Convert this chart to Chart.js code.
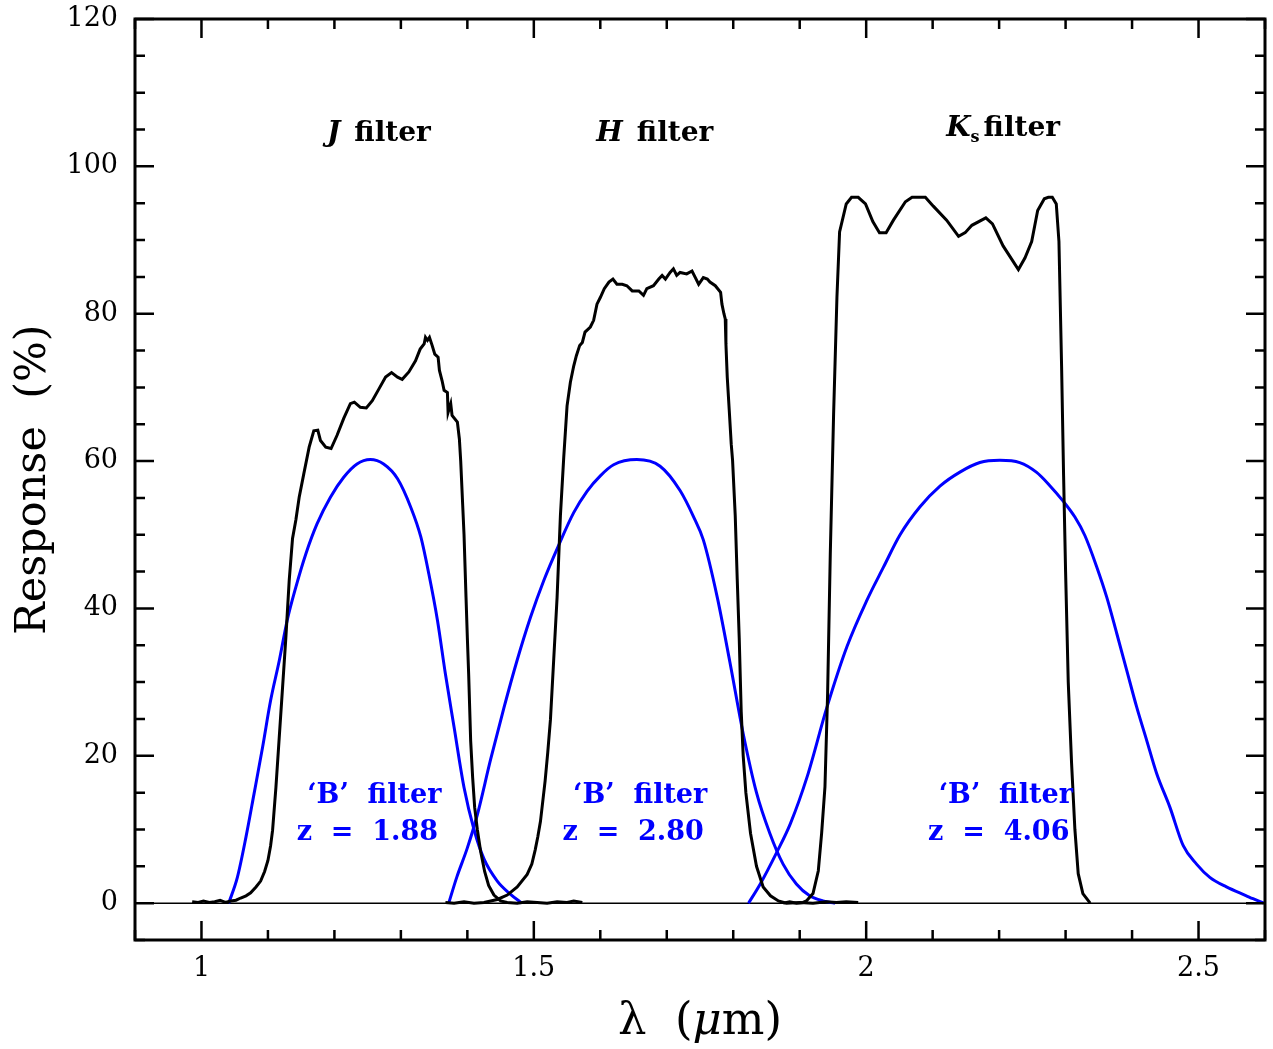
<!DOCTYPE html>
<html>
<head>
<meta charset="utf-8">
<script src="https://cdn.jsdelivr.net/npm/chart.js@4"></script>
<style>
  html, body { margin: 0; padding: 0; background: #fff; }
  #wrap { width: 1273px; height: 1049px; }
</style>
</head>
<body>
<div id="wrap"><canvas id="filterChart"></canvas></div>
<script>
// J, H, Ks filter responses (black) and redshifted 'B' filter (blue)
const jWave = [0.986, 0.995, 1.003, 1.012, 1.020, 1.028, 1.036, 1.044, 1.052, 1.059, 1.067, 1.074, 1.082, 1.089, 1.095, 1.100, 1.104, 1.107, 1.112, 1.117, 1.122, 1.127, 1.132, 1.137, 1.142, 1.147, 1.154, 1.162, 1.169, 1.175, 1.179, 1.187, 1.195, 1.204, 1.214, 1.224, 1.230, 1.239, 1.248, 1.257, 1.267, 1.277, 1.286, 1.295, 1.302, 1.312, 1.322, 1.329, 1.335, 1.337, 1.340, 1.343, 1.347, 1.351, 1.356, 1.358, 1.362, 1.365, 1.370, 1.371, 1.375, 1.377, 1.385, 1.388, 1.390, 1.393, 1.395, 1.398, 1.400, 1.402, 1.405, 1.408, 1.411, 1.415, 1.420, 1.426, 1.432, 1.440, 1.450, 1.460, 1.475, 1.490, 1.505, 1.520, 1.535, 1.550, 1.560, 1.573];
const jResp = [0.2, 0.1, 0.3, 0.1, 0.2, 0.4, 0.1, 0.3, 0.4, 0.7, 1.0, 1.4, 2.2, 3.0, 4.3, 5.8, 7.8, 9.9, 15.7, 22.5, 29.3, 36.1, 43.8, 49.5, 52.0, 55.1, 58.3, 61.9, 64.1, 64.2, 62.8, 61.9, 61.7, 63.5, 65.8, 67.8, 68.0, 67.3, 67.2, 68.2, 69.8, 71.4, 72.0, 71.4, 71.1, 72.1, 73.6, 75.2, 75.9, 76.8, 76.4, 76.8, 75.7, 74.5, 74.1, 72.3, 70.9, 69.6, 69.3, 66.6, 67.8, 66.2, 65.3, 63.0, 60.0, 54.0, 50.0, 41.5, 36.0, 31.0, 22.0, 17.0, 13.0, 10.0, 7.0, 4.3, 2.4, 1.1, 0.3, 0.1, 0.0, 0.2, 0.1, 0.0, 0.2, 0.1, 0.3, 0.1];

const hWave = [1.367, 1.380, 1.395, 1.410, 1.425, 1.435, 1.445, 1.460, 1.475, 1.490, 1.497, 1.502, 1.506, 1.510, 1.517, 1.521, 1.525, 1.530, 1.535, 1.540, 1.545, 1.550, 1.555, 1.560, 1.564, 1.569, 1.573, 1.577, 1.585, 1.590, 1.595, 1.600, 1.606, 1.613, 1.619, 1.625, 1.633, 1.640, 1.648, 1.658, 1.665, 1.670, 1.680, 1.688, 1.693, 1.698, 1.705, 1.710, 1.715, 1.720, 1.730, 1.738, 1.743, 1.748, 1.755, 1.761, 1.765, 1.773, 1.781, 1.783, 1.786, 1.788, 1.789, 1.791, 1.794, 1.797, 1.799, 1.803, 1.806, 1.809, 1.812, 1.815, 1.819, 1.826, 1.835, 1.845, 1.856, 1.868, 1.880, 1.900, 1.920, 1.940, 1.955, 1.970, 1.988];
const hResp = [0.1, 0.0, 0.2, 0.0, 0.1, 0.3, 0.5, 1.1, 2.2, 3.9, 5.3, 7.2, 9.0, 11.1, 16.6, 20.5, 24.9, 33.2, 41.5, 52.6, 60.5, 67.5, 70.7, 72.9, 74.3, 75.7, 76.1, 77.5, 78.2, 79.1, 81.3, 82.2, 83.4, 84.3, 84.7, 84.0, 84.0, 83.8, 83.1, 83.1, 82.5, 83.4, 83.8, 84.7, 85.2, 84.7, 85.6, 86.1, 85.2, 85.6, 85.4, 85.8, 84.9, 84.0, 84.9, 84.7, 84.3, 83.8, 82.9, 81.3, 80.0, 79.3, 75.9, 71.4, 66.9, 62.3, 60.1, 52.6, 44.0, 36.0, 26.0, 20.0, 15.0, 9.5, 5.0, 2.2, 1.0, 0.3, 0.0, 0.1, 0.0, 0.2, 0.1, 0.2, 0.1];

const ksWave = [1.875, 1.885, 1.895, 1.905, 1.910, 1.920, 1.928, 1.933, 1.938, 1.942, 1.946, 1.951, 1.956, 1.960, 1.970, 1.978, 1.988, 1.999, 2.010, 2.020, 2.030, 2.041, 2.059, 2.069, 2.089, 2.101, 2.121, 2.139, 2.149, 2.159, 2.180, 2.190, 2.206, 2.229, 2.239, 2.249, 2.258, 2.268, 2.274, 2.280, 2.286, 2.290, 2.294, 2.297, 2.300, 2.304, 2.309, 2.314, 2.319, 2.326, 2.337];
const ksResp = [0.0, 0.2, 0.0, 0.1, 0.3, 1.3, 4.4, 9.5, 15.8, 28.5, 47.4, 66.4, 82.2, 91.1, 94.9, 95.8, 95.8, 94.9, 92.5, 91.0, 91.0, 92.7, 95.2, 95.8, 95.8, 94.6, 92.7, 90.5, 91.0, 92.0, 93.0, 92.2, 89.2, 86.0, 87.6, 89.8, 94.0, 95.6, 95.8, 95.8, 94.9, 89.8, 72.8, 58.0, 45.0, 30.0, 19.0, 10.0, 4.0, 1.3, 0.0];

const bJWave = [1.041, 1.054, 1.067, 1.079, 1.092, 1.104, 1.117, 1.129, 1.142, 1.157, 1.174, 1.194, 1.214, 1.234, 1.254, 1.274, 1.295, 1.315, 1.330, 1.342, 1.355, 1.367, 1.380, 1.395, 1.410, 1.425, 1.445, 1.465, 1.482];
const bJResp = [0.0, 3.5, 9.0, 14.8, 21.2, 27.5, 32.9, 38.4, 42.9, 47.4, 51.5, 55.1, 57.8, 59.6, 60.2, 59.6, 57.6, 53.7, 49.7, 44.7, 38.4, 31.1, 23.9, 15.7, 10.0, 6.0, 3.0, 1.2, 0.0];

const bHWave = [1.372, 1.384, 1.400, 1.415, 1.435, 1.455, 1.475, 1.495, 1.515, 1.537, 1.560, 1.580, 1.600, 1.620, 1.655, 1.690, 1.720, 1.740, 1.755, 1.776, 1.795, 1.815, 1.835, 1.855, 1.875, 1.895, 1.915, 1.935, 1.953];
const bHResp = [0.0, 3.5, 7.5, 12.0, 19.5, 26.5, 33.0, 38.8, 43.8, 48.5, 53.0, 55.9, 58.0, 59.5, 60.2, 59.3, 56.0, 52.5, 49.3, 41.5, 32.7, 23.0, 15.0, 9.5, 5.3, 2.6, 1.0, 0.3, 0.0];

const bKWave = [1.823, 1.840, 1.866, 1.886, 1.911, 1.941, 1.971, 2.001, 2.026, 2.051, 2.081, 2.111, 2.141, 2.171, 2.201, 2.231, 2.256, 2.276, 2.296, 2.314, 2.329, 2.347, 2.362, 2.377, 2.392, 2.407, 2.422, 2.437, 2.457, 2.477, 2.497, 2.517, 2.542, 2.572, 2.582, 2.598];
const bKResp = [0.0, 2.5, 7.0, 10.8, 17.1, 26.6, 34.8, 41.1, 45.6, 50.0, 53.8, 56.6, 58.5, 59.8, 60.1, 59.8, 58.5, 56.7, 54.6, 52.4, 49.9, 45.6, 41.5, 36.6, 31.6, 26.6, 22.1, 17.6, 13.0, 7.8, 5.3, 3.5, 2.2, 1.0, 0.6, 0.0];

const xTicks = [1, 1.5, 2, 2.5];
const yTicks = [0, 20, 40, 60, 80, 100, 120];

const filterNames = [
  { main: 'J', sub: '', x: 1.267, y: 104.8 },
  { main: 'H', sub: '', x: 1.682, y: 104.8 },
  { main: 'K', sub: 's', x: 2.206, y: 105.5 },
];
const bLabels = [
  { z: '1.88', x: 1.260, y: 14.9 },
  { z: '2.80', x: 1.660, y: 14.9 },
  { z: '4.06', x: 2.210, y: 14.9 },
];

function pts(xs, ys) {
  return xs.map((x, i) => ({ x: x, y: ys[i] }));
}

const BLUE = '#0000ff';
const annoFont = '"DejaVu Serif"';

// inward ticks, frame, zero line and text labels
const framePlugin = {
  id: 'frame',
  beforeDatasetsDraw(chart) {
    const { ctx, chartArea: a, scales: { y } } = chart;
    ctx.save();
    ctx.strokeStyle = '#000';
    ctx.lineWidth = 1.5;
    const y0 = y.getPixelForValue(0);
    ctx.beginPath();
    ctx.moveTo(a.left, y0);
    ctx.lineTo(a.right, y0);
    ctx.stroke();
    ctx.restore();
  },
  afterDatasetsDraw(chart) {
    const { ctx, chartArea: a, scales: { x, y } } = chart;
    ctx.save();
    ctx.strokeStyle = '#000';
    ctx.lineWidth = 2.5;
    ctx.beginPath();
    for (let i = 9; i <= 26; i++) {
      const px = x.getPixelForValue(i / 10);
      const len = (i % 5 === 0) ? 19 : 10;
      ctx.moveTo(px, a.bottom); ctx.lineTo(px, a.bottom - len);
      ctx.moveTo(px, a.top); ctx.lineTo(px, a.top + len);
    }
    for (let v = -5; v <= 120; v += 5) {
      const py = y.getPixelForValue(v);
      const len = (v % 20 === 0) ? 19 : 10;
      ctx.moveTo(a.left, py); ctx.lineTo(a.left + len, py);
      ctx.moveTo(a.right, py); ctx.lineTo(a.right - len, py);
    }
    ctx.stroke();
    ctx.lineWidth = 3;
    ctx.strokeRect(a.left, a.top, a.right - a.left, a.bottom - a.top);

    // filter names
    ctx.fillStyle = '#000';
    ctx.textBaseline = 'alphabetic';
    filterNames.forEach(f => {
      const cx = x.getPixelForValue(f.x);
      const cy = y.getPixelForValue(f.y) + 10;
      const mainFont = 'italic bold 28px ' + annoFont;
      const subFont = 'bold 16px ' + annoFont;
      const restFont = 'bold 28px ' + annoFont;
      ctx.font = mainFont;
      const wm = ctx.measureText(f.main).width;
      ctx.font = subFont;
      const ws = f.sub ? ctx.measureText(f.sub).width : 0;
      ctx.font = restFont;
      const gap = f.sub ? 4 : 14;
      const wr = ctx.measureText('filter').width;
      let sx = cx - (wm + ws + gap + wr) / 2;
      ctx.font = mainFont;
      ctx.fillText(f.main, sx, cy);
      sx += wm;
      if (f.sub) {
        ctx.font = subFont;
        ctx.fillText(f.sub, sx, cy + 6);
        sx += ws;
      }
      sx += gap;
      ctx.font = restFont;
      ctx.fillText('filter', sx, cy);
    });

    // 'B' filter labels
    ctx.fillStyle = BLUE;
    ctx.textAlign = 'center';
    ctx.font = 'bold 27px ' + annoFont;
    bLabels.forEach(b => {
      const cx = x.getPixelForValue(b.x);
      const cy = y.getPixelForValue(b.y);
      ctx.fillText('\u2018B\u2019  filter', cx, cy + 10);
      ctx.fillText('z  =  ' + b.z, cx - 7, cy + 47);
    });

    // x axis title with italic mu
    ctx.fillStyle = '#000';
    ctx.textAlign = 'left';
    ctx.textBaseline = 'middle';
    const parts = [
      ['\u03bb  (', '45px ' + annoFont],
      ['\u03bc', 'italic 45px ' + annoFont],
      ['m)', '45px ' + annoFont],
    ];
    let total = 0;
    parts.forEach(p => { ctx.font = p[1]; total += ctx.measureText(p[0]).width; });
    let tx = (a.left + a.right) / 2 - total / 2;
    const ty = chart.height - 27;
    parts.forEach(p => {
      ctx.font = p[1];
      ctx.fillText(p[0], tx, ty);
      tx += ctx.measureText(p[0]).width;
    });
    ctx.restore();
  }
};

const black = { borderColor: '#000', borderWidth: 3, pointRadius: 0, tension: 0 };
const blue = { borderColor: BLUE, borderWidth: 3, pointRadius: 0, cubicInterpolationMode: 'monotone' };

new Chart(document.getElementById('filterChart'), {
  type: 'line',
  data: {
    datasets: [
      { label: 'J', data: pts(jWave, jResp), ...black },
      { label: 'H', data: pts(hWave, hResp), ...black },
      { label: 'Ks', data: pts(ksWave, ksResp), ...black },
      { label: "'B' z=1.88", data: pts(bJWave, bJResp), ...blue },
      { label: "'B' z=2.80", data: pts(bHWave, bHResp), ...blue },
      { label: "'B' z=4.06", data: pts(bKWave, bKResp), ...blue },
    ],
  },
  options: {
    responsive: true,
    maintainAspectRatio: false,
    animation: false,
    layout: { padding: { top: 19, right: 8, left: 0, bottom: 0 } },
    plugins: {
      legend: { display: false },
      tooltip: { enabled: false },
    },
    scales: {
      x: {
        type: 'linear',
        min: 0.9,
        max: 2.6,
        grid: { display: false, drawTicks: false },
        border: { display: false },
        afterBuildTicks: s => { s.ticks = xTicks.map(v => ({ value: v })); },
        afterFit: s => { s.height = 109; s.paddingLeft = 0; s.paddingRight = 0; },
        ticks: {
          autoSkip: false,
          maxRotation: 0,
          padding: 13,
          color: '#000',
          font: { family: 'DejaVu Serif', size: 27 },
          callback: v => String(v),
        },
      },
      y: {
        type: 'linear',
        min: -5,
        max: 120,
        grid: { display: false, drawTicks: false },
        border: { display: false },
        afterBuildTicks: s => { s.ticks = yTicks.map(v => ({ value: v })); },
        afterFit: s => { s.width = 135; s.paddingTop = 0; s.paddingBottom = 0; },
        ticks: {
          autoSkip: false,
          padding: 17,
          color: '#000',
          font: { family: 'DejaVu Serif', size: 27 },
          callback: v => String(v),
        },
        title: {
          display: true,
          text: 'Response  (%)',
          color: '#000',
          font: { family: 'DejaVu Serif', size: 43 },
          padding: { top: 8, bottom: 0 },
        },
      },
    },
  },
  plugins: [framePlugin],
});
</script>
</body>
</html>
